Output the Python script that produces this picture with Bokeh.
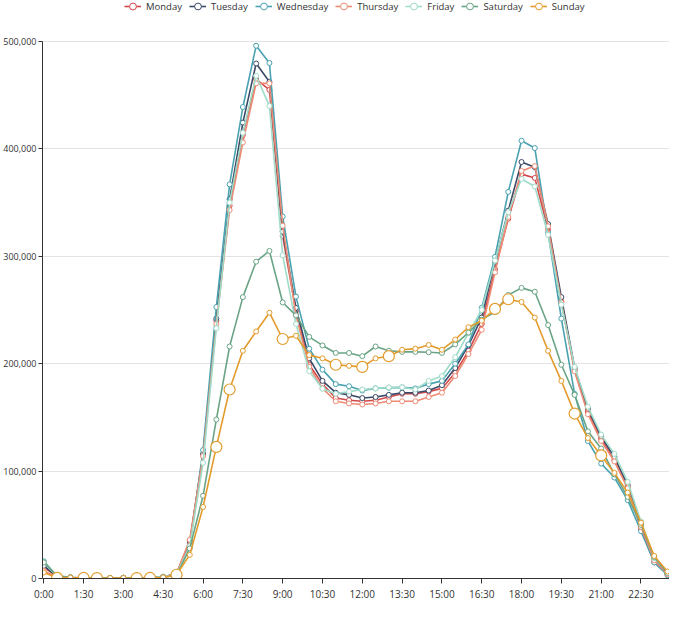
from bokeh.plotting import figure
from bokeh.models import Range1d, FixedTicker, NumeralTickFormatter, Legend, LegendItem
from bokeh.embed import file_html
from bokeh.resources import INLINE

times = ["0:00", "0:30", "1:00", "1:30", "2:00", "2:30", "3:00", "3:30",
         "4:00", "4:30", "5:00", "5:30", "6:00", "6:30", "7:00", "7:30",
         "8:00", "8:30", "9:00", "9:30", "10:00", "10:30", "11:00", "11:30",
         "12:00", "12:30", "13:00", "13:30", "14:00", "14:30", "15:00", "15:30",
         "16:00", "16:30", "17:00", "17:30", "18:00", "18:30", "19:00", "19:30",
         "20:00", "20:30", "21:00", "21:30", "22:00", "22:30", "23:00", "23:30"]

tick_labels = ["0:00", "1:30", "3:00", "4:30", "6:00", "7:30", "9:00", "10:30",
               "12:00", "13:30", "15:00", "16:30", "18:00", "19:30", "21:00", "22:30"]

y_ticks = [0, 100000, 200000, 300000, 400000, 500000]

monday = [10600, 1800, 900, 600, 500, 500, 600, 700, 900, 1500, 4500, 35000,
          115000, 240000, 347000, 413000, 465000, 455000, 319000, 249000, 199000, 181000, 168000, 166000,
          165000, 166000, 169000, 172000, 172000, 174000, 177000, 191500, 212000, 237000, 288000, 335000,
          376500, 373000, 325000, 258000, 194000, 155000, 130000, 110000, 85000, 46000, 15000, 4000]
tuesday = [11800, 1800, 900, 600, 500, 500, 600, 700, 900, 1500, 4000, 33000,
           116000, 242000, 353000, 424500, 479500, 462500, 323000, 252000, 205000, 184000, 173000, 171000,
           168000, 169000, 171000, 173000, 173000, 175000, 180000, 196000, 217000, 243000, 295000, 342500,
           387800, 383000, 330000, 262000, 196000, 158000, 132000, 113000, 87000, 50000, 18000, 5000]
wednesday = [16000, 2000, 900, 600, 500, 500, 600, 700, 900, 1500, 4000, 31000,
             119600, 252800, 367000, 439000, 496000, 480000, 337000, 262500, 214000, 194500, 181000, 179000,
             175000, 177000, 177600, 178000, 177000, 181000, 184000, 200000, 218000, 252000, 299500, 360000,
             407600, 400800, 322000, 242000, 172000, 128000, 107000, 94000, 73000, 44000, 15000, 3000]
thursday = [7100, 1500, 800, 600, 500, 500, 600, 700, 900, 1500, 4500, 36000,
            114000, 237000, 343000, 406000, 461000, 461000, 328500, 245000, 197000, 177000, 165000, 163000,
            162000, 163000, 165000, 165000, 165000, 169000, 173000, 188500, 209000, 231500, 285000, 336600,
            379500, 384000, 328000, 257000, 193000, 153000, 128000, 109000, 84000, 48000, 17000, 4000]
friday = [15000, 2000, 900, 600, 500, 500, 600, 700, 900, 1500, 4000, 30000,
          107700, 233000, 350000, 415000, 468000, 440000, 301000, 237000, 193000, 176700, 172000, 174000,
          176000, 177000, 178000, 178000, 176000, 184000, 188500, 206000, 228500, 250000, 296000, 341000,
          372000, 365000, 320000, 255000, 197000, 160000, 134000, 116000, 90000, 53000, 19000, 6000]
saturday = [15000, 2500, 1200, 800, 600, 500, 500, 600, 800, 1200, 3000, 28000,
            77000, 148000, 216000, 262000, 295000, 305000, 257000, 245000, 225000, 217000, 210000, 210000,
            207000, 216000, 212000, 211000, 211000, 210700, 210000, 218000, 229000, 241000, 248000, 264000,
            270600, 267000, 236000, 199000, 171000, 137000, 121000, 97000, 76000, 50000, 20000, 5000]
sunday = [5600, 600, 800, 500, 400, 500, 500, 400, 500, 1000, 3500, 22000,
          66600, 122500, 176000, 212000, 230000, 247500, 223000, 226000, 208000, 205000, 199000, 198000,
          197000, 205000, 207000, 213000, 214000, 217500, 213000, 222500, 234000, 240000, 251000, 260000,
          257500, 243000, 212000, 184000, 153600, 130800, 114600, 98300, 80000, 52000, 21000, 6500]

# Sunday points drawn with the large hollow symbol
sunday_large = ["0:30", "1:30", "2:00", "3:30", "4:00", "5:00", "6:30", "7:00",
                "9:00", "11:00", "12:00", "13:00", "17:00", "17:30", "20:00", "21:00"]

series_names = ["Monday", "Tuesday", "Wednesday", "Thursday", "Friday", "Saturday", "Sunday"]
series_values = [monday, tuesday, wednesday, thursday, friday, saturday, sunday]
series_colors = ["#d2494b", "#3b4a67", "#4aa2b1", "#ee8b74", "#9fdcc9", "#6aa485", "#e39b2c"]

FONT = "Open Sans"

W, H = 669, 603
BOTTOM, LEFT, RIGHT = 25, 39, 0
PLOT_TOP = 41                     # pixel row of the 500,000 line
Y_MAX = 500000
frame_h = H - BOTTOM              # frame spans the full height above the x axis
y_top = Y_MAX * frame_h / (frame_h - PLOT_TOP)

p = figure(width=W, height=H, output_backend="svg", toolbar_location=None,
           x_range=Range1d(-0.1, 47.15), y_range=Range1d(0, y_top),
           min_border_left=LEFT, min_border_right=RIGHT,
           min_border_top=0, min_border_bottom=BOTTOM)
p.outline_line_color = None
p.background_fill_color = "white"
p.border_fill_color = "white"

idx = {t: i for i, t in enumerate(times)}
x = [idx[t] for t in times]

items = []
for name, vals, col in zip(series_names, series_values, series_colors):
    lr = p.line(x, vals, line_color=col, line_width=1.6)
    if name == "Sunday":
        sx = [idx[t] for t in times if t not in sunday_large]
        sy = [vals[idx[t]] for t in times if t not in sunday_large]
        sr = p.scatter(sx, sy, marker="circle", size=5, fill_color="white",
                       line_color=col, line_width=1)
        bx = [idx[t] for t in sunday_large]
        by = [vals[idx[t]] for t in sunday_large]
        p.scatter(bx, by, marker="circle", size=11, fill_color="white",
                  line_color=col, line_width=1.2)
    else:
        sr = p.scatter(x, vals, marker="circle", size=5, fill_color="white",
                       line_color=col, line_width=1)
    items.append(LegendItem(label=name, renderers=[lr, sr]))

# axes
p.xaxis.ticker = FixedTicker(ticks=[idx[t] for t in tick_labels])
p.xaxis.major_label_overrides = {idx[t]: t for t in tick_labels}
p.yaxis.ticker = FixedTicker(ticks=y_ticks)
p.yaxis.formatter = NumeralTickFormatter(format="0,0")
p.yaxis.bounds = (0, Y_MAX)
for ax in (p.xaxis, p.yaxis):
    ax.axis_line_color = "#333333"
    ax.axis_line_width = 1
    ax.major_tick_line_color = "#333333"
    ax.major_tick_out = 5
    ax.major_tick_in = 0
    ax.minor_tick_line_color = None
    ax.major_label_text_font = FONT
    ax.major_label_text_font_size = "10px"
    ax.major_label_text_color = "#333333"
    ax.major_label_standoff = 3
p.yaxis.major_label_text_font_size = "9px"
p.yaxis.major_tick_out = 4
p.yaxis.major_label_standoff = 2

p.xgrid.grid_line_color = None
p.ygrid.grid_line_color = "#e3e3e3"
p.ygrid.grid_line_width = 1

LEG_H = 18
LEG_TOP = -3
legend = Legend(items=items, orientation="horizontal",
                location=(82, frame_h - LEG_H - LEG_TOP),
                glyph_width=17, glyph_height=LEG_H, label_standoff=5, spacing=7,
                padding=0, margin=0, border_line_color=None, background_fill_alpha=0,
                label_text_font=FONT, label_text_font_size="9.5px",
                label_text_color="#333333", label_height=LEG_H)
p.add_layout(legend)

open("out.html", "w").write(file_html(p, INLINE))
